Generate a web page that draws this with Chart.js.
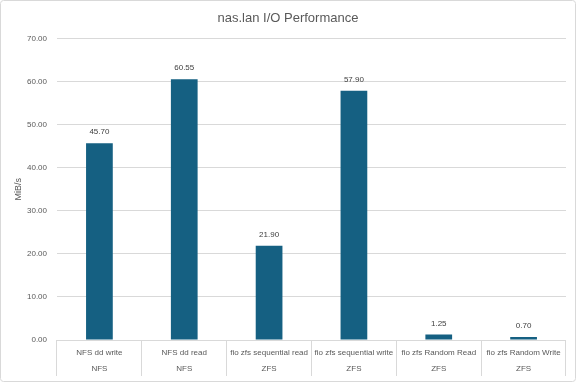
<!DOCTYPE html>
<html>
<head>
<meta charset="utf-8">
<script src="https://cdn.jsdelivr.net/npm/chart.js@4.4.1/dist/chart.umd.min.js"></script>
<style>
html,body{margin:0;padding:0;background:#fff;}
#wrap{width:576px;height:382px;position:relative;}
</style>
</head>
<body>
<div id="wrap"><canvas id="c" width="576" height="382"></canvas></div>
<script>
const testNames = ["NFS dd write", "NFS dd read", "fio zfs sequential read", "fio zfs sequential write", "fio zfs Random Read", "fio zfs Random Write"];
const groups = ["NFS", "NFS", "ZFS", "ZFS", "ZFS", "ZFS"];
const throughput = [45.70, 60.55, 21.90, 57.90, 1.25, 0.70];
const yTicks = [0, 10, 20, 30, 40, 50, 60, 70];

const FONT = "'Liberation Sans', 'DejaVu Sans', sans-serif";
const labels = testNames.map((n, i) => [n, groups[i]]);

const borderPlugin = {
  id: 'frame',
  afterDraw(chart) {
    const ctx = chart.ctx;
    ctx.save();
    ctx.strokeStyle = '#d9d9d9';
    ctx.lineWidth = 1;
    ctx.beginPath();
    if (ctx.roundRect) ctx.roundRect(0.5, 0.5, chart.width - 1, chart.height - 1, 3);
    else ctx.rect(0.5, 0.5, chart.width - 1, chart.height - 1);
    ctx.stroke();
    ctx.restore();
  }
};

const valueLabels = {
  id: 'valueLabels',
  afterDatasetsDraw(chart) {
    const ctx = chart.ctx;
    ctx.save();
    ctx.font = "8px " + FONT;
    ctx.fillStyle = '#404040';
    ctx.textAlign = 'center';
    ctx.textBaseline = 'middle';
    chart.data.datasets.forEach((ds, di) => {
      chart.getDatasetMeta(di).data.forEach((bar, i) => {
        ctx.fillText(Number(ds.data[i]).toFixed(2), bar.x, bar.y - 11);
      });
    });
    ctx.restore();
  }
};

new Chart(document.getElementById('c'), {
  type: 'bar',
  data: {
    labels: labels,
    datasets: [{
      label: 'MiB/s',
      data: throughput,
      backgroundColor: '#156082',
      borderWidth: 0,
      barPercentage: 0.315,
      categoryPercentage: 1.0
    }]
  },
  options: {
    responsive: false,
    animation: false,
    devicePixelRatio: 1,
    layout: { padding: { left: 10, right: 10, top: 0, bottom: 0 } },
    plugins: {
      legend: { display: false },
      tooltip: { enabled: false },
      title: {
        display: true,
        text: 'nas.lan I/O Performance',
        color: '#595959',
        font: { family: FONT, size: 13, weight: 'normal' },
        padding: { top: 11, bottom: 12 }
      }
    },
    scales: {
      x: {
        offset: true,
        grid: {
          offset: true,
          drawOnChartArea: false,
          drawTicks: true,
          tickLength: 36,
          color: '#d9d9d9',
          lineWidth: 1
        },
        border: { display: false },
        ticks: {
          color: '#595959',
          font: { family: FONT, size: 8, lineHeight: 2.1 },
          padding: -32,
          maxRotation: 0,
          autoSkip: false
        },
        afterFit(scale) { scale.height = 42; }
      },
      y: {
        min: 0,
        max: 70,
        afterBuildTicks(scale) { scale.ticks = yTicks.map(v => ({ value: v })); },
        grid: { color: '#d9d9d9', lineWidth: 1, drawTicks: false },
        border: { display: false },
        ticks: {
          color: '#595959',
          font: { family: FONT, size: 8 },
          padding: 10,
          callback: v => Number(v).toFixed(2)
        },
        title: {
          display: true,
          text: 'MiB/s',
          color: '#595959',
          font: { family: FONT, size: 9 },
          padding: { top: 3, bottom: 0 }
        },
        afterFit(scale) { scale.width = 47; }
      }
    }
  },
  plugins: [valueLabels, borderPlugin]
});
</script>
</body>
</html>
